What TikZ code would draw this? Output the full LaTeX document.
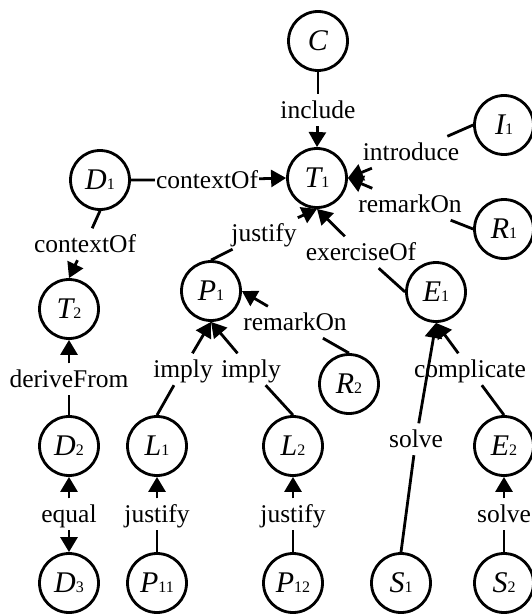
\documentclass[tikz,border=0pt]{standalone}
\usepackage{fontspec}
\setmainfont{Liberation Serif}
\usetikzlibrary{arrows.meta}

% entity name: italic letter with a small upright index
\newcommand{\entname}[2]{{\fontsize{30}{32}\selectfont\itshape #1}{\fontsize{16}{17}\selectfont #2}}

\tikzset{
  entity/.style={circle, draw, line width=2.8pt, minimum size=59pt, inner sep=0pt,
    text height=19.8pt, text depth=0pt},
  relation/.style={inner xsep=1pt, inner ysep=0.5pt, text height=23pt, text depth=7.5pt,
    anchor=base, font=\fontsize{25.5}{30}\selectfont},
  link/.style={line width=2.8pt},
  arrowlink/.style={line width=2.8pt, -{Triangle[length=15pt,width=17pt]}}
}

\begin{document}
\begin{tikzpicture}[x=1pt,y=-1pt]
\useasboundingbox (0,0) rectangle (531,615);

% entities
\node[entity] (C)   at (318,41)  {\entname{C}{}};
\node[entity] (T1)  at (317,178) {\entname{T}{1}};
\node[entity] (D1)  at (100,180) {\entname{D}{1}};
\node[entity] (I1)  at (504,125) {\entname{I}{1}};
\node[entity] (R1)  at (504,229) {\entname{R}{1}};
\node[entity] (T2)  at (69,309)  {\entname{T}{2}};
\node[entity] (P1)  at (211,291) {\entname{P}{1}};
\node[entity] (E1)  at (436,292) {\entname{E}{1}};
\node[entity] (R2)  at (349,384) {\entname{R}{2}};
\node[entity] (D2)  at (69,446)  {\entname{D}{2}};
\node[entity] (L1)  at (157,446) {\entname{L}{1}};
\node[entity] (L2)  at (293,446) {\entname{L}{2}};
\node[entity] (E2)  at (504,446) {\entname{E}{2}};
\node[entity] (D3)  at (69,583)  {\entname{D}{3}};
\node[entity] (P11) at (157,583) {\entname{P}{11}};
\node[entity] (P12) at (293,583) {\entname{P}{12}};
\node[entity] (S1)  at (401,583) {\entname{S}{1}};
\node[entity] (S2)  at (504,583) {\entname{S}{2}};

% relation labels (placed by baseline)
\node[relation] (rInc)   at (318,118) {include};
\node[relation] (rCtxA)  at (207,188) {contextOf};
\node[relation] (rCtxB)  at (85,252)  {contextOf};
\node[relation] (rIntro) at (411,160) {introduce};
\node[relation] (rRemA)  at (410,212) {remarkOn};
\node[relation] (rJusA)  at (264,241) {justify};
\node[relation] (rExer)  at (361,260) {exerciseOf};
\node[relation] (rRemB)  at (295,330) {remarkOn};
\node[relation] (rImpA)  at (183,377) {imply};
\node[relation] (rImpB)  at (251,377) {imply};
\node[relation] (rDer)   at (69,387)  {deriveFrom};
\node[relation] (rEq)    at (69,522)  {equal};
\node[relation] (rJusB)  at (157,522) {justify};
\node[relation] (rJusC)  at (293,522) {justify};
\node[relation] (rSolA)  at (416,447) {solve};
\node[relation] (rComp)  at (470,377) {complicate};
\node[relation] (rSolB)  at (504,522) {solve};

% connectors: source -- label -> target
\draw[link] (C.south) -- (rInc);     \draw[arrowlink] (rInc) -- (T1.north);
\draw[link] (D1.east) -- (rCtxA);    \draw[arrowlink] (rCtxA) -- (T1.west);
\draw[link] (D1.south) -- (rCtxB);   \draw[arrowlink] (rCtxB) -- (T2.north);
\draw[link] (I1.west) -- (rIntro);   \draw[arrowlink] (rIntro) -- (T1.east);
\draw[link] (R1.west) -- (rRemA);    \draw[arrowlink] (rRemA) -- (T1.east);
\draw[link] (P1.north) -- (rJusA);   \draw[arrowlink] (rJusA) -- (T1.south);
\draw[link] (E1.west) -- (rExer);    \draw[arrowlink] (rExer) -- (T1.south);
\draw[link] (R2.north) -- (rRemB);   \draw[arrowlink] (rRemB) -- (P1.east);
\draw[link] (L1.north) -- (rImpA);   \draw[arrowlink] (rImpA) -- (P1.south);
\draw[link] (L2.north) -- (rImpB);   \draw[arrowlink] (rImpB) -- (P1.south);
\draw[link] (D2.north) -- (rDer);    \draw[arrowlink] (rDer) -- (T2.south);
\draw[arrowlink] (rEq) -- (D2.south); \draw[arrowlink] (rEq) -- (D3.north);
\draw[link] (P11.north) -- (rJusB);  \draw[arrowlink] (rJusB) -- (L1.south);
\draw[link] (P12.north) -- (rJusC);  \draw[arrowlink] (rJusC) -- (L2.south);
\draw[link] (S1.north) -- (rSolA);   \draw[arrowlink] (rSolA) -- (E1.south);
\draw[link] (E2.north) -- (rComp);   \draw[arrowlink] (rComp) -- (E1.south);
\draw[link] (S2.north) -- (rSolB);   \draw[arrowlink] (rSolB) -- (E2.south);
\end{tikzpicture}
\end{document}
